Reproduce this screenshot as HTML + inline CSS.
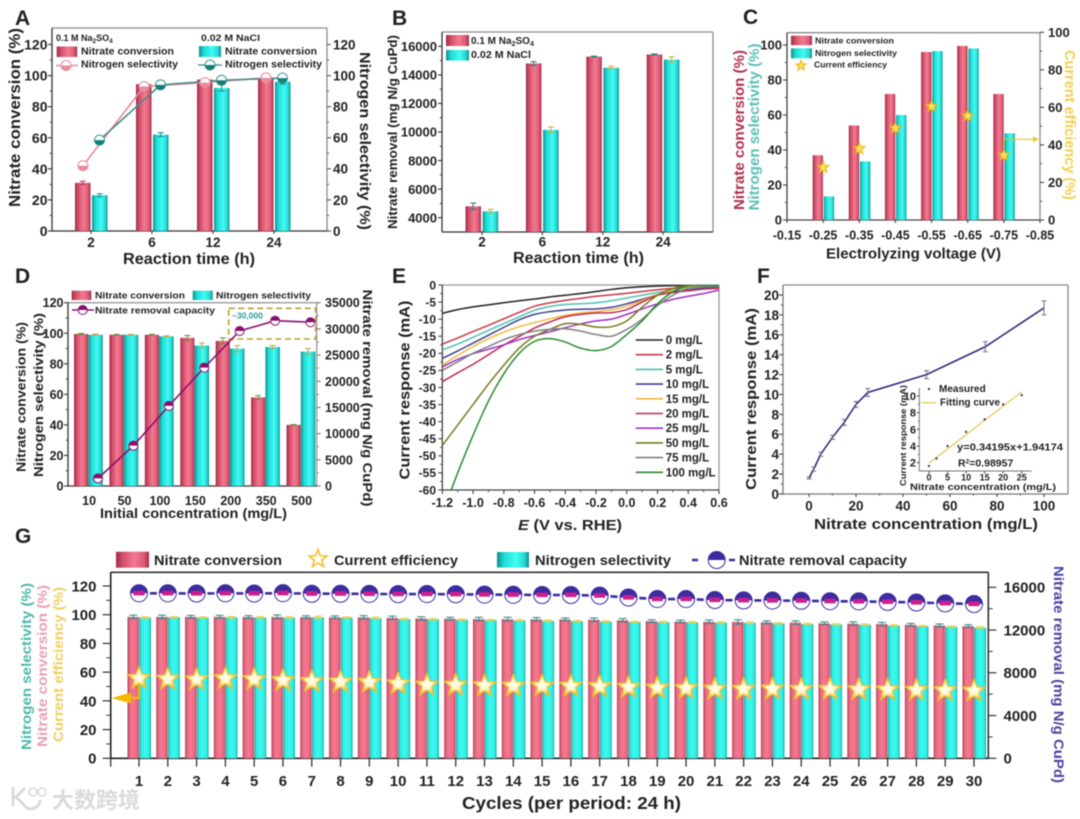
<!DOCTYPE html>
<html lang="en">
<head>
<meta charset="utf-8">
<title>Nitrate reduction performance figure</title>
<style>
html,body{margin:0;padding:0;background:#fff;width:1080px;height:819px;overflow:hidden}
svg{display:block;filter:blur(0.55px)}
svg text{font-family:"Liberation Sans","Noto Sans CJK SC",sans-serif;font-weight:700;fill:#222}
</style>
</head>
<body>
<svg xmlns="http://www.w3.org/2000/svg" width="1080" height="819" viewBox="0 0 1080 819">
<defs>
<linearGradient id="red-grad" x1="0" x2="1" y1="0" y2="0"><stop offset="0" stop-color="#a02a48"/><stop offset=".22" stop-color="#d4506a"/><stop offset=".55" stop-color="#f37a90"/><stop offset=".85" stop-color="#dc5a74"/><stop offset="1" stop-color="#9c2a48"/></linearGradient>
<linearGradient id="cyan-grad" x1="0" x2="1" y1="0" y2="0"><stop offset="0" stop-color="#0f8f8c"/><stop offset=".22" stop-color="#20dcd6"/><stop offset=".6" stop-color="#40fcf4"/><stop offset=".85" stop-color="#28d8d4"/><stop offset="1" stop-color="#0f8f8c"/></linearGradient>
<linearGradient id="red-narrow" x1="0" x2="1" y1="0" y2="0"><stop offset="0" stop-color="#a83350"/><stop offset=".16" stop-color="#e8667f"/><stop offset=".5" stop-color="#f27b91"/><stop offset=".88" stop-color="#e8667f"/><stop offset="1" stop-color="#a83350"/></linearGradient>
<linearGradient id="cyan-narrow" x1="0" x2="1" y1="0" y2="0"><stop offset="0" stop-color="#128f8c"/><stop offset=".14" stop-color="#2ceadf"/><stop offset=".5" stop-color="#3ef8f2"/><stop offset=".88" stop-color="#2ceadf"/><stop offset="1" stop-color="#128f8c"/></linearGradient>
<radialGradient id="star-grad"><stop offset="0" stop-color="#fffff4"/><stop offset=".45" stop-color="#fff6c8"/><stop offset="1" stop-color="#f8b820"/></radialGradient>
<clipPath id="clip-e"><rect x="442.3" y="285" width="276.7" height="205"/></clipPath>
</defs>

<g id="panel-a">
<text x="15" y="25" font-size="21">A</text>
<text transform="translate(20,117.5) rotate(-90)" text-anchor="middle" font-size="15.5" textLength="179" lengthAdjust="spacingAndGlyphs">Nitrate conversion (%)</text>
<text transform="translate(360,141) rotate(90)" text-anchor="middle" font-size="15" textLength="178" lengthAdjust="spacingAndGlyphs">Nitrogen selectivity (%)</text>
<text x="123" y="264" font-size="15.5" textLength="132" lengthAdjust="spacingAndGlyphs">Reaction time (h)</text>
<text x="56" y="41" font-size="9">0.1 M Na<tspan dy="2" font-size="6.5">2</tspan><tspan dy="-2">SO</tspan><tspan dy="2" font-size="6.5">4</tspan></text>
<rect x="56.7" y="46.5" width="20.5" height="10.5" fill="url(#red-grad)"/>
<text x="81" y="54.5" font-size="10.5" textLength="93" lengthAdjust="spacingAndGlyphs">Nitrate conversion</text>
<line x1="56" x2="78" y1="65.5" y2="65.5" stroke="#e88a9a" stroke-width="1.6"/>
<text x="81" y="67.7" font-size="10.5" textLength="97" lengthAdjust="spacingAndGlyphs">Nitrogen selectivity</text>
<text x="201" y="41" font-size="9" textLength="59" lengthAdjust="spacingAndGlyphs">0.02 M NaCl</text>
<rect x="199" y="46" width="22" height="11" fill="url(#cyan-grad)"/>
<text x="225" y="54.5" font-size="10.5" textLength="92" lengthAdjust="spacingAndGlyphs">Nitrate conversion</text>
<line x1="198" x2="222" y1="65" y2="65" stroke="#4a9a94" stroke-width="1.6"/>
<text x="225" y="67.7" font-size="10.5" textLength="97" lengthAdjust="spacingAndGlyphs">Nitrogen selectivity</text>
</g>

<g id="panel-b">
<text x="392" y="25" font-size="21">B</text>
<text transform="translate(397,132) rotate(-90)" text-anchor="middle" font-size="13" textLength="194" lengthAdjust="spacingAndGlyphs">Nitrate removal (mg N/g CuPd)</text>
<text x="513" y="263" font-size="15.5" textLength="131" lengthAdjust="spacingAndGlyphs">Reaction time (h)</text>
<rect x="446" y="35" width="23" height="11" fill="url(#red-grad)"/>
<text x="471" y="44" font-size="10">0.1 M Na<tspan dy="2" font-size="7">2</tspan><tspan dy="-2">SO</tspan><tspan dy="2" font-size="7">4</tspan></text>
<rect x="446" y="50" width="23" height="10.5" fill="url(#cyan-grad)"/>
<text x="471" y="58" font-size="10" textLength="60" lengthAdjust="spacingAndGlyphs">0.02 M NaCl</text>
</g>

<g id="panel-c">
<text x="743" y="24" font-size="21">C</text>
<text transform="translate(744,130) rotate(-90)" text-anchor="middle" font-size="14.5" textLength="160" lengthAdjust="spacingAndGlyphs" style="fill:#b03050">Nitrate conversion (%)</text>
<text transform="translate(759,127) rotate(-90)" text-anchor="middle" font-size="14.5" textLength="167" lengthAdjust="spacingAndGlyphs" style="fill:#5cc0b5">Nitrogen selectivity (%)</text>
<text transform="translate(1065,125) rotate(90)" text-anchor="middle" font-size="14.5" textLength="150" lengthAdjust="spacingAndGlyphs" style="fill:#f0d050">Current efficiency (%)</text>
<text x="826" y="258.3" font-size="14.5" textLength="175" lengthAdjust="spacingAndGlyphs">Electrolyzing voltage (V)</text>
<rect x="791" y="35.7" width="21" height="9.5" fill="url(#red-grad)"/>
<text x="815" y="43.7" font-size="8.5" textLength="79" lengthAdjust="spacingAndGlyphs">Nitrate conversion</text>
<rect x="791" y="48.3" width="21" height="10" fill="url(#cyan-grad)"/>
<text x="815" y="56" font-size="8.5" textLength="82" lengthAdjust="spacingAndGlyphs">Nitrogen selectivity</text>
<text x="814" y="67.7" font-size="8.5" textLength="73" lengthAdjust="spacingAndGlyphs">Current efficiency</text>
</g>

<g id="panel-d">
<text x="15" y="283" font-size="21">D</text>
<text transform="translate(25.5,397) rotate(-90)" text-anchor="middle" font-size="13" textLength="150" lengthAdjust="spacingAndGlyphs">Nitrate conversion (%)</text>
<text transform="translate(43,395) rotate(-90)" text-anchor="middle" font-size="13" textLength="164" lengthAdjust="spacingAndGlyphs">Nitrogen selectivity (%)</text>
<text transform="translate(363,398) rotate(90)" text-anchor="middle" font-size="13" textLength="217" lengthAdjust="spacingAndGlyphs">Nitrate removal (mg N/g CuPd)</text>
<text x="100" y="518" font-size="13.5" textLength="187" lengthAdjust="spacingAndGlyphs">Initial concentration (mg/L)</text>
<rect x="71.7" y="290.7" width="19.6" height="9.3" fill="url(#red-grad)"/>
<text x="95" y="298.3" font-size="9.5" textLength="90" lengthAdjust="spacingAndGlyphs">Nitrate conversion</text>
<rect x="192.7" y="290.7" width="20" height="9.3" fill="url(#cyan-grad)"/>
<text x="216" y="298.3" font-size="9.5" textLength="95" lengthAdjust="spacingAndGlyphs">Nitrogen selectivity</text>
<line x1="72" x2="94" y1="310" y2="310" stroke="#8a1070" stroke-width="1.6"/>
<text x="95" y="313.3" font-size="9.5" textLength="120" lengthAdjust="spacingAndGlyphs">Nitrate removal capacity</text>
</g>

<g id="panel-e">
<text x="392" y="283" font-size="21">E</text>
<text transform="translate(409.5,390) rotate(-90)" text-anchor="middle" font-size="15" textLength="179" lengthAdjust="spacingAndGlyphs">Current response (mA)</text>
<text x="518" y="530" font-size="14.5" textLength="104" lengthAdjust="spacingAndGlyphs"><tspan font-style="italic">E</tspan> (V vs. RHE)</text>
</g>

<g id="panel-f">
<text x="757" y="283" font-size="21">F</text>
<text transform="translate(756,399) rotate(-90)" text-anchor="middle" font-size="15" textLength="182" lengthAdjust="spacingAndGlyphs">Current response (mA)</text>
<text x="814" y="529" font-size="15" textLength="224" lengthAdjust="spacingAndGlyphs">Nitrate concentration (mg/L)</text>
<text x="939" y="392" font-size="10">Measured</text>
<line x1="921" x2="936" y1="402.7" y2="402.7" stroke="#e8c860" stroke-width="1.3"/>
<text x="940" y="405.7" font-size="10">Fitting curve</text>
<text x="957" y="450.7" font-size="10.5" textLength="106" lengthAdjust="spacingAndGlyphs">y=0.34195x+1.94174</text>
<text x="958" y="466.7" font-size="10.5">R<tspan dy="-3" font-size="6.5">2</tspan><tspan dy="3">=0.98957</tspan></text>
<text transform="translate(906,435.5) rotate(-90)" text-anchor="middle" font-size="8.5" textLength="101" lengthAdjust="spacingAndGlyphs">Current response (mA)</text>
<text x="910" y="490" font-size="9.5" textLength="146" lengthAdjust="spacingAndGlyphs">Nitrate concentration (mg/L)</text>
</g>

<g id="panel-g">
<text x="15" y="543" font-size="21">G</text>
<rect x="116" y="551.7" width="33" height="16" fill="url(#red-grad)"/>
<text x="154" y="565" font-size="13.5" textLength="128" lengthAdjust="spacingAndGlyphs">Nitrate conversion</text>
<text x="334" y="565" font-size="13.5" textLength="124" lengthAdjust="spacingAndGlyphs">Current efficiency</text>
<rect x="497" y="552" width="32" height="15.5" fill="url(#cyan-grad)"/>
<text x="535" y="565" font-size="13.5" textLength="136" lengthAdjust="spacingAndGlyphs">Nitrogen selectivity</text>
<line x1="692" x2="735" y1="560" y2="560" stroke="#3b2c9f" stroke-width="2.5" stroke-dasharray="6 31 6"/>
<text x="739" y="565" font-size="13.5" textLength="168" lengthAdjust="spacingAndGlyphs">Nitrate removal capacity</text>
<text transform="translate(31,666.5) rotate(-90)" text-anchor="middle" font-size="13.5" textLength="167" lengthAdjust="spacingAndGlyphs" style="fill:#4cb8ac">Nitrogen selectivity (%)</text>
<text transform="translate(47,666) rotate(-90)" text-anchor="middle" font-size="13.5" textLength="162" lengthAdjust="spacingAndGlyphs" style="fill:#e8a0b0">Nitrate conversion (%)</text>
<text transform="translate(63,664.5) rotate(-90)" text-anchor="middle" font-size="13.5" textLength="155" lengthAdjust="spacingAndGlyphs" style="fill:#eed060">Current efficiency (%)</text>
<text transform="translate(1054,674.5) rotate(90)" text-anchor="middle" font-size="13.5" textLength="217" lengthAdjust="spacingAndGlyphs" style="fill:#4a44a0">Nitrate removal (mg N/g CuPd)</text>
<text x="462" y="809" font-size="17.5" textLength="219" lengthAdjust="spacingAndGlyphs">Cycles (per period: 24 h)</text>
</g>

<g id="watermark" opacity=".95">
<path d="M13 787 V806 M25 788 L16 797 L27 808 C33 811 40 806 40 800" fill="none" stroke="#d8d8d8" stroke-width="3"/>
<circle cx="33" cy="792" r="4" fill="none" stroke="#d8d8d8" stroke-width="1.6"/>
<circle cx="42" cy="792" r="4" fill="none" stroke="#d8d8d8" stroke-width="1.6"/>
<text x="52" y="808" font-size="22" style="fill:#d8d8d8;font-weight:700">大数跨境</text>
</g>
</svg>

<script>
/* Panel A */
const aCategories = ['2', '6', '12', '24'];
const aConversionNa = [31, 94.5, 97.5, 98.5];
const aConversionCl = [23, 62, 92, 96];
const aSelectivityNa = [42, 93, 95.5, 98.5];
const aSelectivityCl = [58.5, 94, 97, 98.4];
const aErrConvNa = [1, 1.2, 0.6, 0.5];
const aErrConvCl = [1, 1.3, 2, 1.5];
const aTicks = [0, 20, 40, 60, 80, 100, 120];
/* Panel B */
const bCategories = ['2', '6', '12', '24'];
const bRemovalNa = [4800, 14800, 15280, 15430];
const bRemovalCl = [4450, 10150, 14500, 15070];
const bErrNa = [220, 130, 30, 30];
const bErrCl = [130, 200, 100, 200];
const bTicks = [4000, 6000, 8000, 10000, 12000, 14000, 16000];
/* Panel C */
const cVoltages = [-0.25, -0.35, -0.45, -0.55, -0.65, -0.75];
const cConversion = [37, 54, 72, 96, 99.5, 72];
const cSelectivity = [13.5, 33.5, 60, 96.5, 98, 49.5];
const cEfficiency = [28, 38, 49, 60.5, 55.5, 34.5];
const cXTicks = [-0.15, -0.25, -0.35, -0.45, -0.55, -0.65, -0.75, -0.85];
const cLeftTicks = [0, 20, 40, 60, 80, 100];
const cRightTicks = [0, 20, 40, 60, 80, 100];
/* Panel D */
const dCategories = ['10', '50', '100', '150', '200', '350', '500'];
const dConversion = [99.5, 99, 99, 97, 95, 58, 40];
const dSelectivity = [99, 99, 98, 92, 90, 91, 88];
const dCapacity = [1460, 7700, 15300, 22600, 29600, 31560, 31270];
const dErrConv = [0.3, 0.3, 0.3, 1.5, 2, 1.2, 0.2];
const dErrSel = [0.4, 0.3, 0.4, 1.5, 2, 1, 2];
const dLeftTicks = [0, 20, 40, 60, 80, 100, 120];
const dRightTicks = [0, 5000, 10000, 15000, 20000, 25000, 30000, 35000];
/* Panel E */
const ePotentials = [-1.2, -1.1, -1.0, -0.9, -0.8, -0.7, -0.6, -0.5, -0.4, -0.3, -0.2, -0.1, 0, 0.1, 0.2, 0.3, 0.4, 0.5, 0.6];
const eLabels = ['0 mg/L', '2 mg/L', '5 mg/L', '10 mg/L', '15 mg/L', '20 mg/L', '25 mg/L', '50 mg/L', '75 mg/L', '100 mg/L'];
const eColors = ['#222222', '#c8374a', '#4fc0b0', '#3f3f90', '#f0b840', '#c02a55', '#a030c8', '#7a7a20', '#808080', '#2a8a30'];
const eCurve0 = [-8.3, -7.2, -6.4, -5.8, -5.2, -4.6, -4.1, -3.5, -3, -2.5, -1.9, -1.3, -0.8, -0.5, -0.3, -0.2, -0.1, -0.1, 0];
const eCurve2 = [-17.3, -15.5, -13.6, -11.8, -9.9, -8, -6.2, -5.2, -4.5, -3.9, -3.3, -2.9, -2.4, -1.9, -1.4, -1, -0.7, -0.5, -0.3];
const eCurve5 = [-19, -17.3, -15.3, -13.3, -11.3, -9.3, -7.4, -6.3, -5.7, -5.5, -5.2, -4.6, -3.8, -3, -2.2, -1.5, -1, -0.7, -0.5];
const eCurve10 = [-21.5, -19.3, -17, -14.7, -12.4, -10.2, -8.6, -7.8, -7.3, -7.1, -7, -6.5, -5.5, -4.2, -2.9, -2, -1.5, -1, -0.7];
const eCurve15 = [-23.5, -20.6, -18, -15.7, -13.8, -12.2, -11, -9.9, -8.9, -8.2, -7.8, -7.2, -6.2, -4.5, -2.8, -1.6, -0.7, -0.3, -0.2];
const eCurve20 = [-28.3, -25.7, -23.2, -20.4, -17.6, -15.1, -12.6, -10.8, -9.3, -8.6, -8.2, -8.1, -7.2, -5, -3, -2.2, -1.7, -1.2, -1];
const eCurve25 = [-24, -21.8, -20.1, -18.8, -17.5, -16, -14.8, -13.7, -12.5, -11.4, -10.5, -10, -8.6, -7, -5.5, -4.2, -3.3, -2.5, -1.5];
const eCurve50 = [-47, -41, -35, -29, -23.5, -18.5, -15, -13, -11.3, -11.5, -12.3, -12.2, -10.5, -6.5, -3, -1, -0.2, -0.1, -0.3];
const eCurve75 = [-25, -22.5, -20, -18, -16, -14.5, -13.5, -13, -12.8, -13.5, -14.5, -15, -13, -10, -6, -3, -1, -0.5, -0.5];
const eCurve100 = [-67, -55, -44, -34, -26, -20, -16.5, -15.7, -16.7, -18.5, -19.2, -18, -14.5, -10.5, -5.5, -2, -0.3, -0.1, -0.2];
const eCurves = [eCurve0, eCurve2, eCurve5, eCurve10, eCurve15, eCurve20, eCurve25, eCurve50, eCurve75, eCurve100];
const eXTicks = [-1.2, -1.0, -0.8, -0.6, -0.4, -0.2, 0, 0.2, 0.4, 0.6];
const eYTicks = [0, -5, -10, -15, -20, -25, -30, -35, -40, -45, -50, -55, -60];
/* Panel F */
const fConcentration = [0, 2, 5, 10, 15, 20, 25, 50, 75, 100];
const fCurrent = [1.6, 2.5, 4, 5.7, 7.2, 9, 10.2, 12, 14.8, 18.7];
const fErr = [0.1, 0.2, 0.2, 0.2, 0.3, 0.3, 0.4, 0.4, 0.5, 0.7];
const fXTicks = [0, 20, 40, 60, 80, 100];
const fYTicks = [0, 2, 4, 6, 8, 10, 12, 14, 16, 18, 20];
const fInsetConcentration = [0, 2, 5, 10, 15, 20, 25];
const fInsetCurrent = [1.6, 2.5, 4, 5.7, 7.2, 9, 10.1];
const fFitSlope = 0.34195;
const fFitIntercept = 1.94174;
const fInsetXTicks = [0, 5, 10, 15, 20, 25];
const fInsetYTicks = [2, 4, 6, 8, 10];
/* Panel G */
const gCycles = [1, 2, 3, 4, 5, 6, 7, 8, 9, 10, 11, 12, 13, 14, 15, 16, 17, 18, 19, 20, 21, 22, 23, 24, 25, 26, 27, 28, 29, 30];
const gConversion = [98.5, 98.5, 98.5, 98.5, 98.4, 98.5, 98.3, 98.2, 98.2, 97.8, 97.4, 97.2, 97, 96.9, 96.8, 96.7, 96.5, 96.2, 95.5, 95.3, 95.1, 95, 94.7, 94.5, 94, 93.8, 93.5, 93, 92.5, 92];
const gSelectivity = [98, 98.2, 98, 98.2, 98.1, 98, 98.2, 98, 97.6, 97, 96.8, 96.5, 96.2, 96, 95.7, 95.5, 95.2, 94.9, 94.8, 94.7, 94.5, 94.4, 94, 93.5, 93.2, 93, 92.5, 92, 91.6, 91];
const gEfficiency = [55.7, 55.2, 54.8, 55.5, 55, 54.2, 53.5, 53.2, 53, 52, 51, 51, 50.6, 50.4, 50.4, 50.3, 50, 49.5, 49, 48.7, 48.2, 48.1, 48.3, 48, 48, 47.9, 47.7, 47.5, 47.2, 46.9];
const gCapacity = [15440, 15440, 15420, 15440, 15420, 15450, 15400, 15400, 15380, 15360, 15370, 15350, 15320, 15300, 15280, 15280, 15220, 15045, 14900, 14900, 14810, 14780, 14760, 14740, 14700, 14680, 14640, 14580, 14500, 14440];
const gErrConv = [1.2, 1.2, 1, 1, 1, 1.4, 1, 1, 1.2, 1.2, 1.2, 1, 1.2, 1.3, 1.3, 1, 1.2, 1.2, 1, 1, 1.2, 1.5, 1, 1.2, 1, 1.2, 1.2, 1, 1, 1];
const gErrSel = [0.6, 0.5, 0.5, 0.6, 0.5, 0.6, 0.8, 0.5, 0.6, 0.5, 0.5, 0.5, 0.5, 0.5, 0.5, 0.6, 0.5, 0.5, 0.6, 0.5, 0.6, 0.6, 0.5, 0.6, 0.6, 0.5, 0.5, 0.5, 0.5, 0.6];
const gLeftTicks = [0, 20, 40, 60, 80, 100, 120];
const gRightTicks = [0, 4000, 8000, 12000, 16000];

const NS = 'http://www.w3.org/2000/svg';

function linear(d0, d1, r0, r1) {
  return function (v) { return r0 + (v - d0) * (r1 - r0) / (d1 - d0); };
}
function add(parent, tag, attrs, name) {
  const el = document.createElementNS(NS, tag);
  Object.keys(attrs).forEach(function (k) { el.setAttribute(k, attrs[k]); });
  
  
  parent.appendChild(el);
  return el;
}
function label(g, x, y, str, size, anchor, name) {
  const t = add(g, 'text', { x: x, y: y, 'font-size': size, 'text-anchor': anchor }, name);
  t.textContent = str;
  return t;
}
function frame(g, l, t, r, b, c1, c2, sw) {
  const w = sw || 1.3;
  add(g, 'line', { x1: l, x2: r, y1: t, y2: t, stroke: c2, 'stroke-width': w }, 'frame-top');
  add(g, 'line', { x1: r, x2: r, y1: t, y2: b, stroke: c2, 'stroke-width': w }, 'frame-right');
  add(g, 'line', { x1: l, x2: l, y1: t, y2: b, stroke: c1, 'stroke-width': w }, 'frame-left');
  add(g, 'line', { x1: l, x2: r, y1: b, y2: b, stroke: c1, 'stroke-width': w }, 'frame-bottom');
}
function yAxis(g, x, scale, ticks, dir, len, size, labelX, anchor, color, fmt) {
  const step = ticks[1] - ticks[0];
  ticks.forEach(function (v, i) {
    add(g, 'line', { x1: x, x2: x + dir * len, y1: scale(v), y2: scale(v), stroke: color, 'stroke-width': 1.1 }, 'y-tick');
    label(g, labelX, scale(v) + size * 0.36, fmt ? fmt(v) : String(v), size, anchor, 'y-tick-label');
    if (i < ticks.length - 1) {
      add(g, 'line', { x1: x, x2: x + dir * len * 0.55, y1: scale(v + step / 2), y2: scale(v + step / 2), stroke: color, 'stroke-width': 0.9 }, 'y-minor-tick');
    }
  });
}
function xAxis(g, y, scale, ticks, len, size, labelY, color, fmt, minors) {
  const step = ticks[1] - ticks[0];
  ticks.forEach(function (v, i) {
    add(g, 'line', { x1: scale(v), x2: scale(v), y1: y, y2: y + len, stroke: color, 'stroke-width': 1.1 }, 'x-tick');
    label(g, scale(v), labelY, fmt ? fmt(v) : String(v), size, 'middle', 'x-tick-label');
    if (minors && i < ticks.length - 1) {
      add(g, 'line', { x1: scale(v + step / 2), x2: scale(v + step / 2), y1: y, y2: y + len * 0.55, stroke: color, 'stroke-width': 0.9 }, 'x-minor-tick');
    }
  });
}
function bar(g, x0, w, yTop, yBase, fill, name) {
  return add(g, 'rect', { x: x0, y: yTop, width: w, height: Math.max(0, yBase - yTop), fill: fill }, name);
}
function errBar(g, x, y0, y1, cap, color, name) {
  add(g, 'path', {
    d: 'M' + x + ' ' + y0 + 'V' + y1 + 'M' + (x - cap) + ' ' + y0 + 'H' + (x + cap) + 'M' + (x - cap) + ' ' + y1 + 'H' + (x + cap),
    stroke: color, 'stroke-width': 1, fill: 'none'
  }, name);
}
function halfMarker(g, x, y, r, top, bottom, stroke, name, band) {
  add(g, 'circle', { cx: x, cy: y, r: r, fill: bottom, stroke: stroke, 'stroke-width': 1 }, name);
  add(g, 'path', { d: 'M' + (x - r) + ' ' + y + 'A' + r + ' ' + r + ' 0 0 1 ' + (x + r) + ' ' + y + 'Z', fill: top }, name + '-top-half');
  if (band) {
    add(g, 'rect', { x: x - r * 0.65, y: y - r * 0.3, width: r * 1.3, height: r * 0.55, fill: band }, name + '-band');
  }
}
function halfMarkerLower(g, x, y, r, fillColor, stroke, name) {
  add(g, 'circle', { cx: x, cy: y, r: r, fill: '#fff', stroke: stroke, 'stroke-width': 1 }, name);
  add(g, 'path', { d: 'M' + (x - r) + ' ' + y + 'A' + r + ' ' + r + ' 0 0 0 ' + (x + r) + ' ' + y + 'Z', fill: fillColor }, name + '-bottom-half');
}
function star(g, cx, cy, R, fill, stroke, sw, name) {
  let d = '';
  for (let i = 0; i < 10; i++) {
    const rad = i % 2 ? R * 0.42 : R;
    const a = -Math.PI / 2 + i * Math.PI / 5;
    d += (i ? 'L' : 'M') + (cx + rad * Math.cos(a)).toFixed(2) + ' ' + (cy + rad * Math.sin(a)).toFixed(2);
  }
  add(g, 'path', { d: d + 'Z', fill: fill, stroke: stroke, 'stroke-width': sw, 'stroke-linejoin': 'miter' }, name);
}
function linePath(xs, ys) {
  return xs.map(function (x, i) { return (i ? 'L' : 'M') + x.toFixed(2) + ' ' + ys[i].toFixed(2); }).join('');
}
function smoothPath(xs, ys) {
  let d = 'M' + xs[0].toFixed(2) + ' ' + ys[0].toFixed(2);
  for (let i = 0; i < xs.length - 1; i++) {
    const p0 = Math.max(0, i - 1), p3 = Math.min(xs.length - 1, i + 2);
    const c1x = xs[i] + (xs[i + 1] - xs[p0]) / 6, c1y = ys[i] + (ys[i + 1] - ys[p0]) / 6;
    const c2x = xs[i + 1] - (xs[p3] - xs[i]) / 6, c2y = ys[i + 1] - (ys[p3] - ys[i]) / 6;
    d += 'C' + c1x.toFixed(2) + ' ' + c1y.toFixed(2) + ' ' + c2x.toFixed(2) + ' ' + c2y.toFixed(2) + ' ' + xs[i + 1].toFixed(2) + ' ' + ys[i + 1].toFixed(2);
  }
  return d;
}

/* ---------- Panel A ---------- */
(function () {
  const g = document.getElementById('panel-a');
  const y = linear(0, 120, 231, 44.5);
  const cx = function (i) { return 91 + i * 61; };
  frame(g, 52, 28, 327, 231, '#333', '#8a8a8a');
  yAxis(g, 52, y, aTicks, -1, 4, 14, 47.5, 'end', '#333');
  yAxis(g, 327, y, aTicks, 1, 4, 13.5, 333, 'start', '#555');
  aCategories.forEach(function (c, i) {
    add(g, 'line', { x1: cx(i), x2: cx(i), y1: 231, y2: 234, stroke: '#333', 'stroke-width': 1 }, 'x-tick');
    label(g, cx(i), 247, c, 13.5, 'middle', 'x-tick-label');
    bar(g, cx(i) - 16, 15.5, y(aConversionNa[i]), 231, 'url(#red-grad)', 'bar-na-conversion');
    bar(g, cx(i) + 1, 15.5, y(aConversionCl[i]), 231, 'url(#cyan-grad)', 'bar-cl-conversion');
    errBar(g, cx(i) - 8.2, y(aConversionNa[i] + aErrConvNa[i]), y(aConversionNa[i] - aErrConvNa[i]), 3, '#b03a55', 'error-bar-na');
    errBar(g, cx(i) + 8.7, y(aConversionCl[i] + aErrConvCl[i]), y(aConversionCl[i] - aErrConvCl[i]), 3, '#178a85', 'error-bar-cl');
  });
  const xp = aCategories.map(function (c, i) { return cx(i) - 8; });
  const xt = aCategories.map(function (c, i) { return cx(i) + 8.5; });
  add(g, 'path', { d: linePath(xp, aSelectivityNa.map(y)), fill: 'none', stroke: '#e88a9a', 'stroke-width': 1.6 }, 'line-na-selectivity');
  add(g, 'path', { d: linePath(xt, aSelectivityCl.map(y)), fill: 'none', stroke: '#4a8a88', 'stroke-width': 1.6 }, 'line-cl-selectivity');
  aCategories.forEach(function (c, i) {
    halfMarkerLower(g, xp[i], y(aSelectivityNa[i]), 5, '#ee8a9c', '#e88a9a', 'point-na-selectivity');
    halfMarkerLower(g, xt[i], y(aSelectivityCl[i]), 5, '#12807a', '#3a9a94', 'point-cl-selectivity');
  });
  halfMarkerLower(g, 66, 65.5, 5, '#ee8a9c', '#e88a9a', 'legend-marker-na-selectivity');
  halfMarkerLower(g, 210, 65, 5, '#12807a', '#3a9a94', 'legend-marker-cl-selectivity');
})();

/* ---------- Panel B ---------- */
(function () {
  const g = document.getElementById('panel-b');
  const y = linear(3000, 17000, 232, 32);
  const cx = function (i) { return 482 + i * 60.4; };
  frame(g, 442, 32, 713, 232, '#333', '#8a8a8a');
  yAxis(g, 442, y, bTicks, -1, 4, 13, 437, 'end', '#333');
  bCategories.forEach(function (c, i) {
    add(g, 'line', { x1: cx(i), x2: cx(i), y1: 232, y2: 235, stroke: '#333', 'stroke-width': 1 }, 'x-tick');
    label(g, cx(i), 246.7, c, 13.5, 'middle', 'x-tick-label');
    bar(g, cx(i) - 16.5, 15.5, y(bRemovalNa[i]), 232, 'url(#red-grad)', 'bar-na-removal');
    bar(g, cx(i) + 0.7, 15.5, y(bRemovalCl[i]), 232, 'url(#cyan-grad)', 'bar-cl-removal');
    errBar(g, cx(i) - 8.8, y(bRemovalNa[i] + bErrNa[i]), y(bRemovalNa[i] - bErrNa[i]), 3, '#1f7f80', 'error-bar-na');
    errBar(g, cx(i) + 8.5, y(bRemovalCl[i] + bErrCl[i]), y(bRemovalCl[i] - bErrCl[i]), 3, '#d8a030', 'error-bar-cl');
  });
})();

/* ---------- Panel C ---------- */
(function () {
  const g = document.getElementById('panel-c');
  const x = linear(-0.15, -0.85, 787, 1040);
  const yL = linear(0, 100, 220, 45);
  const yR = linear(0, 100, 220, 32.3);
  frame(g, 787, 32.7, 1040, 220, '#444', '#8a8a8a');
  yAxis(g, 787, yL, cLeftTicks, -1, 4, 13, 782, 'end', '#444');
  yAxis(g, 1040, yR, cRightTicks, 1, 4, 13, 1048, 'start', '#444');
  xAxis(g, 220, x, cXTicks, 3, 12.5, 239.3, '#444', function (v) { return v.toFixed(2); }, false);
  cVoltages.forEach(function (v, i) {
    bar(g, x(v) - 10.5, 10.3, yL(cConversion[i]), 220, 'url(#red-grad)', 'bar-conversion');
    bar(g, x(v) + 0.7, 10.3, yL(cSelectivity[i]), 220, 'url(#cyan-grad)', 'bar-selectivity');
  });
  const last = cVoltages.length - 1;
  add(g, 'path', {
    d: 'M' + x(cVoltages[last]) + ' ' + yR(cEfficiency[last]) + 'V139.3H1034',
    fill: 'none', stroke: '#eac030', 'stroke-width': 1.2
  }, 'arrow-to-efficiency-axis');
  add(g, 'path', { d: 'M1033 136.5L1039 139.3L1033 142Z', fill: '#eac030' }, 'arrow-head-efficiency');
  cVoltages.forEach(function (v, i) {
    star(g, x(v), yR(cEfficiency[i]), 6, '#fbe36a', '#f0b400', 1, 'star-current-efficiency');
  });
  star(g, 801, 65.7, 5.5, '#fbe36a', '#f0b400', 1, 'legend-star-efficiency');
})();

/* ---------- Panel D ---------- */
(function () {
  const g = document.getElementById('panel-d');
  const yL = linear(0, 120, 486, 302.7);
  const yR = linear(0, 35000, 486, 302.7);
  const cx = function (i) { return 88.3 + i * 35.42; };
  frame(g, 68, 302.7, 316.7, 486, '#333', '#999');
  yAxis(g, 68, yL, dLeftTicks, -1, 4, 12.5, 63.5, 'end', '#333');
  yAxis(g, 316.7, yR, dRightTicks, 1, 4, 12.5, 325, 'start', '#777');
  dCategories.forEach(function (c, i) {
    bar(g, cx(i) - 14.3, 14.1, yL(dConversion[i]), 486, 'url(#red-grad)', 'bar-conversion');
    bar(g, cx(i), 14.5, yL(dSelectivity[i]), 486, 'url(#cyan-grad)', 'bar-selectivity');
    errBar(g, cx(i) - 7.2, yL(dConversion[i] + dErrConv[i]), yL(dConversion[i] - dErrConv[i]), 3, '#6a8a40', 'error-bar-conversion');
    errBar(g, cx(i) + 7.2, yL(dSelectivity[i] + dErrSel[i]), yL(dSelectivity[i] - dErrSel[i]), 3, '#c8a040', 'error-bar-selectivity');
    label(g, cx(i) + 0.8, 505, c, 12.5, 'middle', 'x-tick-label');
  });
  const xs = dCategories.map(function (c, i) { return cx(i) + 9.7; });
  add(g, 'rect', { x: 228.7, y: 308.3, width: 87, height: 30.7, fill: 'none', stroke: '#b5a030', 'stroke-width': 1.6, 'stroke-dasharray': '6 3.5' }, 'highlight-box-30000');
  label(g, 232, 318.5, '~30,000', 8.5, 'start', 'annotation-30000').style.fill = '#2a9a9a';
  add(g, 'path', { d: linePath(xs, dCapacity.map(yR)), fill: 'none', stroke: '#8a1070', 'stroke-width': 1.6 }, 'line-removal-capacity');
  xs.forEach(function (x, i) {
    halfMarker(g, x, yR(dCapacity[i]), 4.5, '#8a1070', '#fff', '#8a1070', 'point-removal-capacity');
  });
  halfMarker(g, 82.7, 310, 4.5, '#8a1070', '#fff', '#8a1070', 'legend-marker-capacity');
})();

/* ---------- Panel E ---------- */
(function () {
  const g = document.getElementById('panel-e');
  const x = linear(-1.2, 0.6, 442.3, 719);
  const y = linear(0, -60, 285, 490);
  frame(g, 442.3, 285, 719, 490, '#444', '#999');
  yAxis(g, 442.3, y, eYTicks, -1, 4, 12, 436, 'end', '#444');
  xAxis(g, 490, x, eXTicks, 4, 12.5, 507, '#444', function (v) { return v.toFixed(1); }, true);
  const clip = add(g, 'g', { 'clip-path': 'url(#clip-e)' }, 'lsv-curves');
  eCurves.forEach(function (curve, k) {
    add(clip, 'path', {
      d: smoothPath(ePotentials.map(x), curve.map(y)),
      fill: 'none', stroke: eColors[k], 'stroke-width': 1.5
    }, 'curve-' + eLabels[k].replace(' mg/L', '-mg-l'));
    const ly = 340 + k * 14.7;
    add(g, 'line', { x1: 635.7, x2: 663, y1: ly, y2: ly, stroke: eColors[k], 'stroke-width': 1.6 }, 'legend-line');
    label(g, 665.7, ly + 4, eLabels[k], 11.5, 'start', 'legend-label');
  });
})();

/* ---------- Panel F ---------- */
(function () {
  const g = document.getElementById('panel-f');
  const x = linear(0, 100, 809, 1044);
  const y = linear(0, 20, 494, 295);
  frame(g, 783, 285, 1068, 494, '#777', '#888');
  yAxis(g, 783, y, fYTicks, -1, 4, 13.5, 779, 'end', '#444');
  xAxis(g, 494, x, fXTicks, 3, 13.5, 510.7, '#444', null, true);
  add(g, 'path', { d: linePath(fConcentration.map(x), fCurrent.map(y)), fill: 'none', stroke: '#2f2f80', 'stroke-width': 1.6 }, 'line-current-response');
  fConcentration.forEach(function (c, i) {
    errBar(g, x(c), y(fCurrent[i] + fErr[i]), y(fCurrent[i] - fErr[i]), 2.5, '#70708f', 'error-bar-current');
  });
  const ix = linear(0, 25, 929, 1021.7);
  const iy = linear(2, 10, 462.7, 396);
  add(g, 'path', { d: 'M919.3 388V471H1031.7', fill: 'none', stroke: '#777', 'stroke-width': 1 }, 'inset-axes');
  yAxis(g, 919.3, iy, fInsetYTicks, -1, 2.5, 11, 916, 'end', '#555');
  xAxis(g, 471, ix, fInsetXTicks, 2.5, 9, 480.7, '#555');
  add(g, 'line', {
    x1: ix(0), y1: iy(fFitSlope * 0 + fFitIntercept), x2: ix(25), y2: iy(fFitSlope * 25 + fFitIntercept),
    stroke: '#e8c860', 'stroke-width': 1.3
  }, 'inset-fit-line');
  fInsetConcentration.forEach(function (c, i) {
    add(g, 'rect', { x: ix(c) - 1, y: iy(fInsetCurrent[i]) - 1, width: 2, height: 2, fill: '#2f2f60' }, 'inset-measured-point');
  });
  add(g, 'rect', { x: 928, y: 388, width: 2, height: 2, fill: '#2f2f60' }, 'inset-legend-marker');
})();

/* ---------- Panel G ---------- */
(function () {
  const g = document.getElementById('panel-g');
  const x = linear(1, 30, 139, 974);
  const yL = linear(0, 120, 758.3, 586);
  const yR = linear(0, 16000, 758.3, 587.3);
  frame(g, 110.7, 572.3, 988.3, 758.3, '#222', '#333', 1.6);
  yAxis(g, 110.7, yL, gLeftTicks, -1, 8, 15, 96.5, 'end', '#222');
  yAxis(g, 988.3, yR, gRightTicks, 1, 8, 15, 1003.5, 'start', '#222');
  add(g, 'line', { x1: 110.7, x2: 110.7, y1: 758.3, y2: 766.7, stroke: '#222', 'stroke-width': 1.2 }, 'x-axis-origin-tick');
  gCycles.forEach(function (c, i) {
    add(g, 'line', { x1: x(c), x2: x(c), y1: 758.3, y2: 766.7, stroke: '#222', 'stroke-width': 1.2 }, 'x-tick');
    label(g, x(c), 786, String(c), 15, 'middle', 'x-tick-label');
    bar(g, x(c) - 11.5, 11.3, yL(gConversion[i]), 758.3, 'url(#red-narrow)', 'bar-conversion-cycle');
    bar(g, x(c) + 0.3, 11.7, yL(gSelectivity[i]), 758.3, 'url(#cyan-narrow)', 'bar-selectivity-cycle');
    errBar(g, x(c) - 5.7, yL(gConversion[i] + gErrConv[i]), yL(gConversion[i] - gErrConv[i]), 4, '#1f8a88', 'error-bar-conversion');
    errBar(g, x(c) + 6.2, yL(gSelectivity[i] + gErrSel[i]), yL(gSelectivity[i] - gErrSel[i]), 4, '#e8c830', 'error-bar-selectivity');
  });
  add(g, 'path', {
    d: linePath(gCycles.map(x), gCapacity.map(yR)), fill: 'none', stroke: '#3b2c9f', 'stroke-width': 2.6,
    'stroke-dasharray': '7 21.79', 'stroke-dashoffset': '-10.9'
  }, 'line-removal-capacity');
  gCycles.forEach(function (c, i) {
    halfMarker(g, x(c), yR(gCapacity[i]), 8.5, '#3b2c9f', '#fff', '#3b2c9f', 'point-removal-capacity', '#cc1f8f');
  });
  add(g, 'path', {
    d: 'M' + x(1) + ' ' + yL(gEfficiency[0]) + 'V698H130', fill: 'none', stroke: '#f5b800', 'stroke-width': 2.2
  }, 'arrow-to-efficiency-axis');
  add(g, 'path', { d: 'M131 692.5V703.5L111.5 698Z', fill: '#f5b800' }, 'arrow-head-efficiency');
  gCycles.forEach(function (c, i) {
    star(g, x(c), yL(gEfficiency[i]), 12, 'url(#star-grad)', '#f0c030', 1.2, 'star-current-efficiency');
  });
  star(g, 318, 559, 9.5, '#fffdf0', '#f0c030', 1.6, 'legend-star-efficiency');
  halfMarker(g, 716.7, 560, 8.5, '#3b2c9f', '#fff', '#3b2c9f', 'legend-marker-capacity');
})();
</script>
</body>
</html>
